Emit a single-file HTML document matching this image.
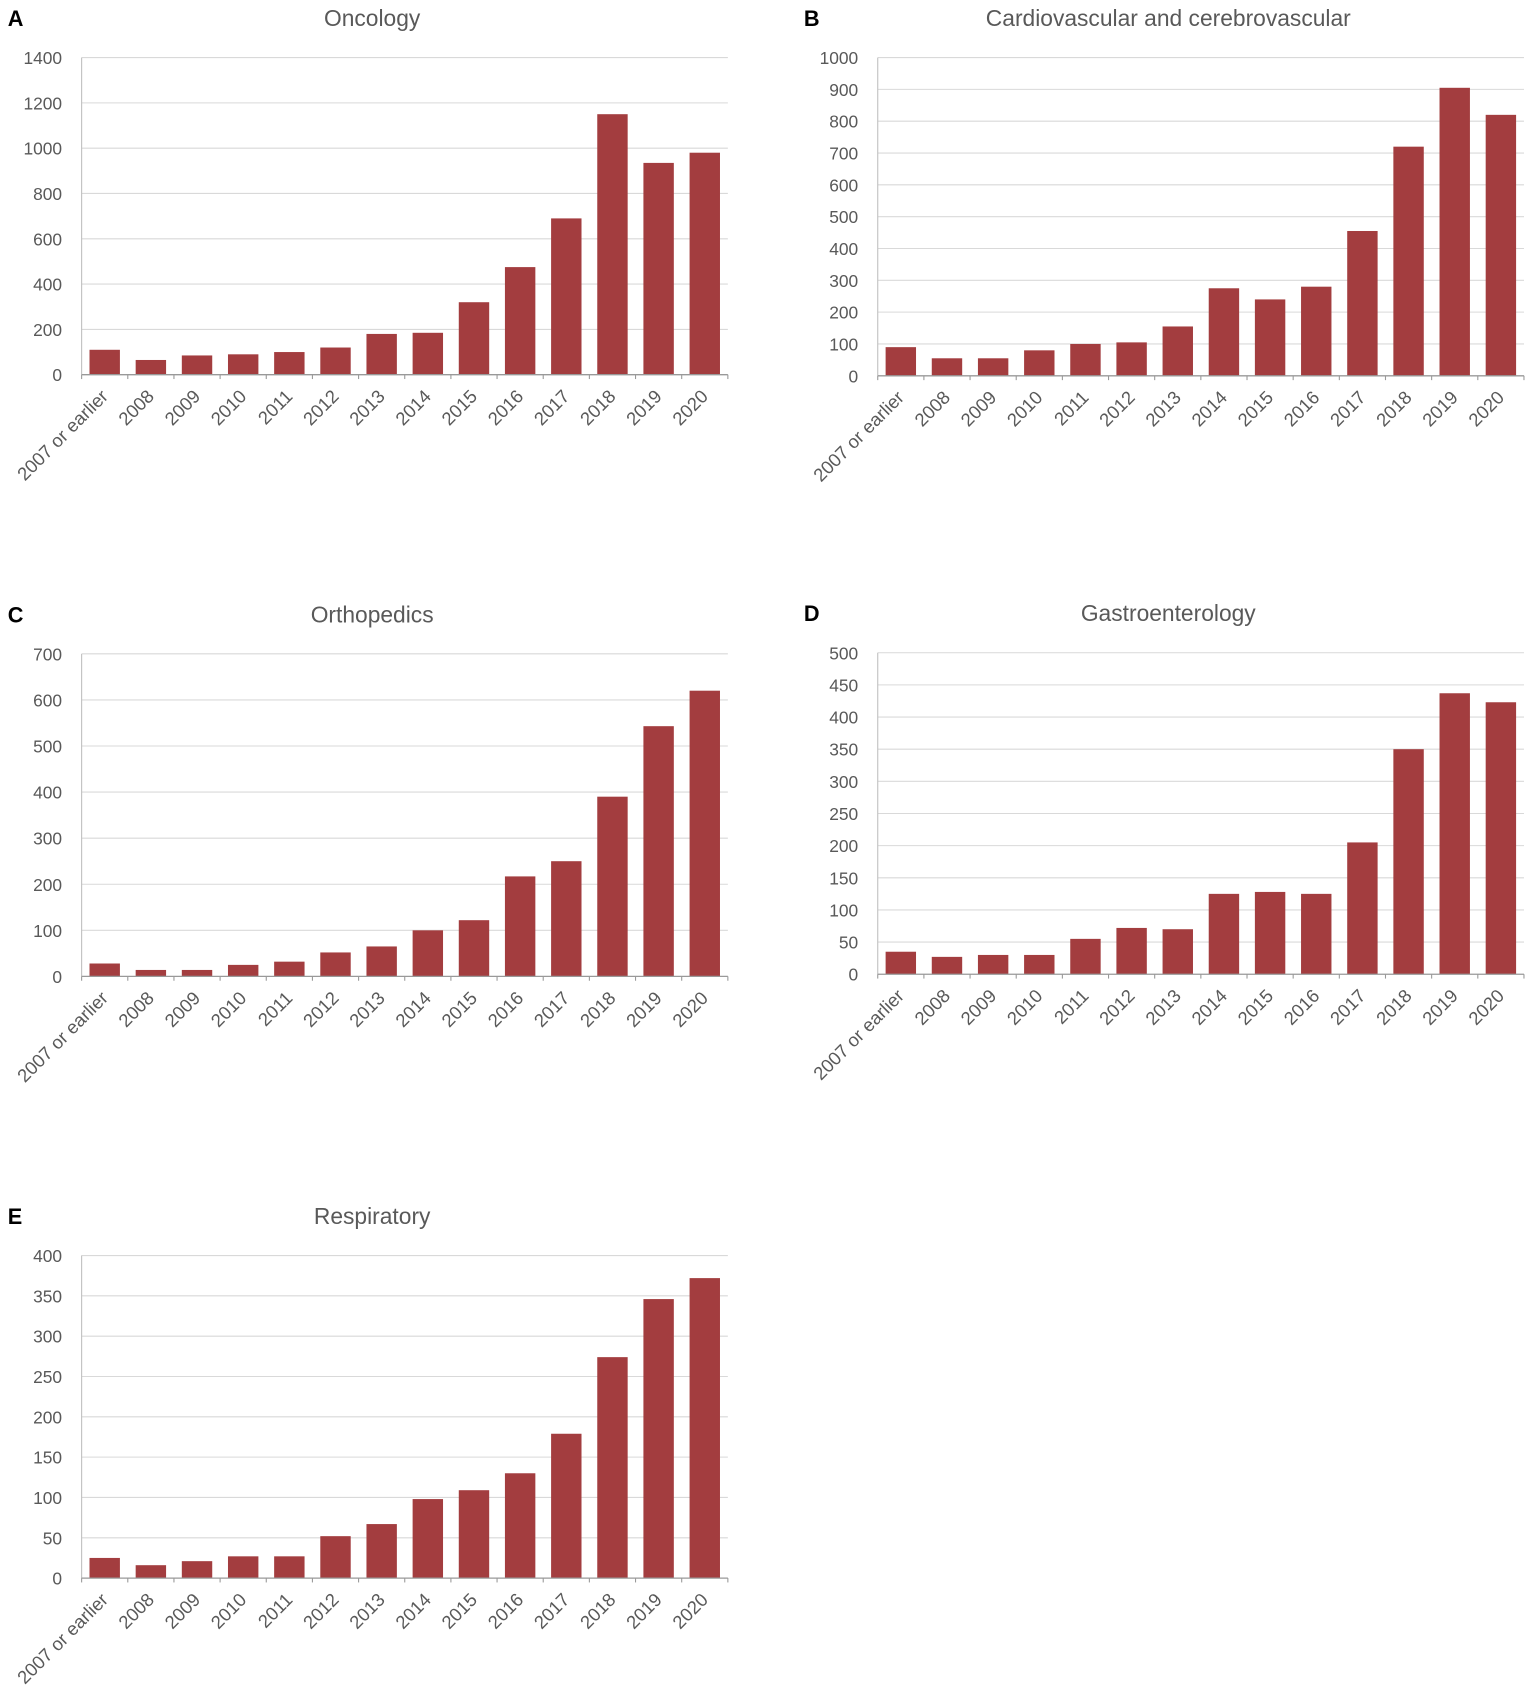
<!DOCTYPE html>
<html><head><meta charset="utf-8"><style>
body{margin:0;background:#fff}
svg{display:block}
text{font-family:"Liberation Sans",sans-serif;fill:#595959}
</style></head><body>
<svg id="fig" width="1535" height="1703" viewBox="0 0 1413 1568" xmlns="http://www.w3.org/2000/svg"></svg>
<script>
const categories=["2007 or earlier","2008","2009","2010","2011","2012","2013","2014","2015","2016","2017","2018","2019","2020"];
const oncologyValues=[110,65,85,90,100,120,180,185,320,475,690,1150,935,980];
const cardioValues=[90,55,55,80,100,105,155,275,240,280,455,720,905,820];
const orthoValues=[28,14,14,25,32,52,65,100,122,217,250,390,543,620];
const gastroValues=[35,27,30,30,55,72,70,125,128,125,205,350,437,423];
const respValues=[25,16,21,27,27,52,67,98,109,130,179,274,346,372];
const oncologyTicks=[0,200,400,600,800,1000,1200,1400];
const cardioTicks=[0,100,200,300,400,500,600,700,800,900,1000];
const orthoTicks=[0,100,200,300,400,500,600,700];
const gastroTicks=[0,50,100,150,200,250,300,350,400,450,500];
const respTicks=[0,50,100,150,200,250,300,350,400];

const NS="http://www.w3.org/2000/svg";
const svg=document.getElementById('fig');
function mk(tag,attrs,parent){const e=document.createElementNS(NS,tag);for(const k in attrs)e.setAttribute(k,attrs[k]);(parent||svg).appendChild(e);return e;}

function chart(cfg,values,ticks){
  const g=mk('g',{});
  
  
  const x0=cfg.x0,x1=cfg.x0+595,yTop=cfg.yTop,yBot=cfg.yBot;
  const max=ticks[ticks.length-1];
  const y=v=>yBot-(v/max)*(yBot-yTop);
  const slot=(x1-x0)/categories.length;
  const xc=i=>x0+slot*(i+0.5);
  const lt=mk('text',{x:cfg.x0-68,y:yTop-29,'font-size':20,'font-weight':'bold',style:'fill:#000'},g);
  lt.textContent=cfg.letter;
  
  
  const tt=mk('text',{x:(x0+x1)/2-30,y:yTop-29,'font-size':21,'text-anchor':'middle'},g);
  tt.textContent=cfg.title;
  
  
  ticks.forEach(t=>{
    if(t>0){const gl=mk('line',{x1:x0,x2:x1,y1:y(t),y2:y(t),stroke:'#d9d9d9','stroke-width':1},g);
      
      }
    const tl=mk('text',{x:x0-18,y:y(t)+6,'font-size':16,'text-anchor':'end'},g);
    tl.textContent=t;
    
    
  });
  mk('line',{x1:x0,x2:x0,y1:yTop,y2:yBot,stroke:'#bfbfbf','stroke-width':1},g);
  values.forEach((v,i)=>{
    const r=mk('rect',{x:xc(i)-14,y:y(v),width:28,height:yBot-y(v),fill:'#a33d3f'},g);
    
    
  });
  mk('line',{x1:x0,x2:x1,y1:yBot,y2:yBot,stroke:'#999','stroke-width':1.2},g);
  for(let i=0;i<=categories.length;i++){mk('line',{x1:x0+slot*i,x2:x0+slot*i,y1:yBot,y2:yBot+4,stroke:'#999'},g);}
  categories.forEach((c,i)=>{
    const tx=xc(i)+4,ty=yBot+21;
    const xl=mk('text',{x:tx,y:ty,'font-size':17,'text-anchor':'end',transform:`rotate(-45 ${tx} ${ty})`},g);
    xl.textContent=c;
    
    
  });
}
chart({name:'oncology-chart',letter:'A',title:'Oncology',x0:75,yTop:53,yBot:345},oncologyValues,oncologyTicks);
chart({name:'cardiovascular-chart',letter:'B',title:'Cardiovascular and cerebrovascular',x0:808,yTop:53,yBot:346},cardioValues,cardioTicks);
chart({name:'orthopedics-chart',letter:'C',title:'Orthopedics',x0:75,yTop:602,yBot:899},orthoValues,orthoTicks);
chart({name:'gastroenterology-chart',letter:'D',title:'Gastroenterology',x0:808,yTop:601,yBot:897},gastroValues,gastroTicks);
chart({name:'respiratory-chart',letter:'E',title:'Respiratory',x0:75,yTop:1156,yBot:1453},respValues,respTicks);
</script>
</body></html>
